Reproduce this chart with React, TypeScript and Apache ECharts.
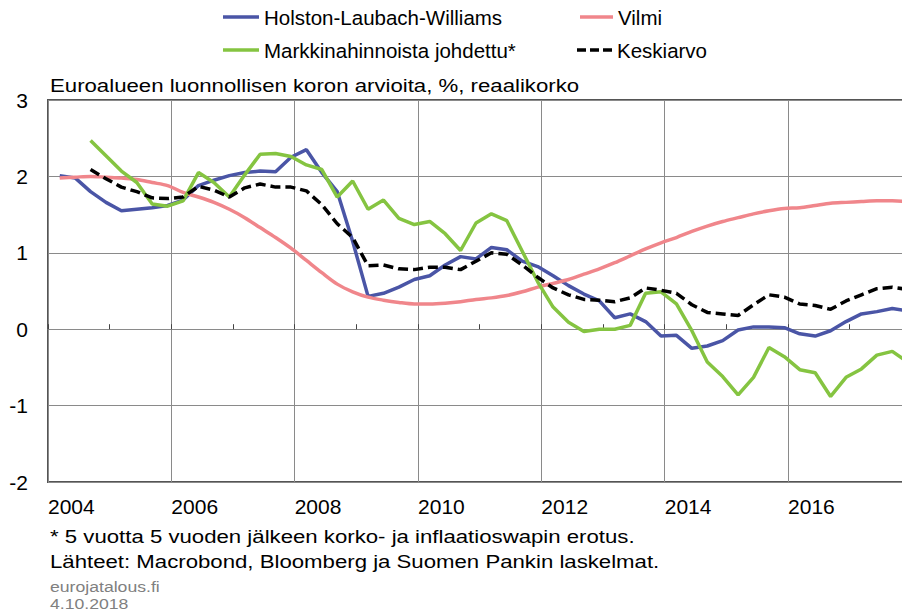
import React, { useEffect, useRef } from "react";
import * as echarts from "echarts";

const quarters: string[] = [];
for (let y = 2004; y <= 2017; y++) for (let q = 1; q <= 4; q++) quarters.push(`${y}Q${q}`);

const hlw = [2.01, 1.98, 1.80, 1.66, 1.55, 1.57, 1.59, 1.62, 1.69, 1.88,
  1.95, 2.01, 2.05, 2.07, 2.06, 2.25, 2.35, 2.05, 1.80, 1.15,
  0.43, 0.47, 0.55, 0.65, 0.70, 0.84, 0.95, 0.92, 1.07, 1.04,
  0.89, 0.82, 0.70, 0.57, 0.46, 0.37, 0.15, 0.20, 0.10, -0.09,
  -0.08, -0.25, -0.22, -0.15, -0.01, 0.03, 0.03, 0.02, -0.06, -0.09,
  -0.02, 0.10, 0.20, 0.23, 0.27, 0.24];

const vilmi = [1.98, 1.99, 2.00, 1.99, 1.98, 1.96, 1.92, 1.88, 1.79, 1.73,
  1.66, 1.57, 1.46, 1.33, 1.20, 1.06, 0.90, 0.74, 0.59, 0.49,
  0.42, 0.38, 0.35, 0.33, 0.33, 0.34, 0.36, 0.39, 0.41, 0.44,
  0.49, 0.55, 0.60, 0.65, 0.72, 0.79, 0.87, 0.96, 1.05, 1.13,
  1.20, 1.28, 1.35, 1.41, 1.46, 1.51, 1.55, 1.58, 1.59, 1.62,
  1.65, 1.66, 1.67, 1.68, 1.68, 1.67];

const market = [null, null, 2.47, 2.27, 2.07, 1.92, 1.64, 1.61, 1.68, 2.05,
  1.92, 1.73, 2.02, 2.29, 2.30, 2.26, 2.15, 2.09, 1.73, 1.94,
  1.57, 1.69, 1.45, 1.37, 1.41, 1.25, 1.03, 1.39, 1.51, 1.42,
  1.02, 0.62, 0.29, 0.09, -0.03, 0.00, 0.00, 0.05, 0.47, 0.49,
  0.33, -0.02, -0.43, -0.62, -0.86, -0.63, -0.24, -0.36, -0.53, -0.57,
  -0.88, -0.63, -0.52, -0.34, -0.29, -0.43];

const average = [null, null, 2.09, 1.97, 1.86, 1.80, 1.72, 1.71, 1.73, 1.87,
  1.82, 1.73, 1.85, 1.90, 1.86, 1.86, 1.81, 1.63, 1.38, 1.20,
  0.83, 0.84, 0.79, 0.78, 0.81, 0.81, 0.78, 0.89, 1.00, 0.98,
  0.84, 0.68, 0.54, 0.45, 0.39, 0.38, 0.36, 0.41, 0.54, 0.51,
  0.47, 0.32, 0.22, 0.20, 0.18, 0.32, 0.45, 0.42, 0.33, 0.31,
  0.26, 0.37, 0.45, 0.53, 0.55, 0.52];

const seriesNames = ["Holston-Laubach-Williams", "Vilmi", "Markkinahinnoista johdettu*", "Keskiarvo"];
const seriesColors = ["#4a55a6", "#f0868b", "#85c441", "#000000"];

const titleText = "Euroalueen luonnollisen koron arvioita, %, reaalikorko";
const footnote1 = "* 5 vuotta 5 vuoden jälkeen korko- ja inflaatioswapin erotus.";
const footnote2 = "Lähteet: Macrobond, Bloomberg ja Suomen Pankin laskelmat.";
const sourceSite = "eurojatalous.fi";
const dateText = "4.10.2018";

const X_MIN = 2004;
const X_MAX = 2017.88;
const Y_MIN = -2;
const Y_MAX = 3;
const QUARTER_POS = 0.19;

const FONT = '"Liberation Sans", Arial, sans-serif';

function toT(q: string): number {
  const y = parseInt(q.slice(0, 4), 10);
  const n = parseInt(q.slice(5), 10);
  return y + (n - 1) / 4 + QUARTER_POS;
}

function pairs(values: (number | null)[]) {
  const out: [number, number][] = [];
  values.forEach((v, i) => {
    if (v !== null && v !== undefined) out.push([toT(quarters[i]), v]);
  });
  return out;
}

const DASH_ICON = "path://M0,0h9v3.5h-9z M13,0h9v3.5h-9z M26,0h9v3.5h-9z";

export default function App() {
  const ref = useRef<HTMLDivElement>(null);
  useEffect(() => {
    if (!ref.current) return;
    const chart = echarts.init(ref.current, undefined, { renderer: "svg" });
    const allData = [hlw, vilmi, market, average];
    const legendPos = [
      { left: 223, top: 6.5, w: 36, icon: "rect" },
      { left: 580, top: 6.5, w: 33, icon: "rect" },
      { left: 223, top: 39.5, w: 36, icon: "rect" },
      { left: 577, top: 39.5, w: 35, icon: DASH_ICON },
    ];
    const option: any = {
      animation: false,
      backgroundColor: "#ffffff",
      grid: {
        left: 48, right: -2, top: 100, bottom: 130,
        show: true, borderColor: "#555555", borderWidth: 2,
        backgroundColor: "transparent",
        outerBoundsMode: "none",
        containLabel: false,
      },
      legend: seriesNames.map((name, i) => ({
        data: [name],
        left: legendPos[i].left,
        top: legendPos[i].top,
        padding: 0,
        icon: legendPos[i].icon,
        itemWidth: legendPos[i].w,
        itemHeight: 3.5,
        symbolKeepAspect: false,
        textStyle: { fontSize: 20.5, fontFamily: FONT, color: "#000" },
        selectedMode: false,
      })),
      xAxis: [
        {
          type: "value", min: X_MIN, max: X_MAX, interval: 2, position: "bottom",
          axisLine: { show: false, onZero: false },
          axisTick: { show: false },
          axisLabel: { align: "left", fontSize: 21, fontFamily: FONT, color: "#000", margin: 14,
            showMaxLabel: false, formatter: (v: number) => String(v) },
          splitLine: { show: true, lineStyle: { color: "#8a8a8a", width: 1 } },
        },
        {
          type: "value", min: X_MIN, max: X_MAX, interval: 1, position: "bottom",
          axisLine: { show: true, onZero: true, lineStyle: { color: "#8a8a8a", width: 1 } },
          axisTick: { show: true, inside: true, length: 5, lineStyle: { color: "#444", width: 1 } },
          axisLabel: { show: false },
          splitLine: { show: false },
        },
      ],
      yAxis: {
        type: "value", min: Y_MIN, max: Y_MAX, interval: 1,
        axisLine: { show: false },
        axisTick: { show: false },
        axisLabel: { fontSize: 21, fontFamily: FONT, color: "#000", margin: 20 },
        splitLine: { show: true, lineStyle: { color: "#8a8a8a", width: 1 } },
      },
      series: seriesNames.map((name, i) => ({
        name,
        type: "line",
        xAxisIndex: 0,
        symbol: "none",
        showSymbol: false,
        smooth: i === 1 ? 0.3 : false,
        data: pairs(allData[i]),
        color: seriesColors[i],
        itemStyle: { color: seriesColors[i] },
        lineStyle: {
          color: seriesColors[i],
          width: 3.5,
          type: i === 3 ? [10, 5] : "solid",
          cap: "butt",
        },
        z: 2 + i,
      })),
      graphic: [
        { type: "text", x: 50, y: 86, scaleX: 1.2,
          style: { text: titleText, font: `18.5px ${FONT}`, fill: "#000", verticalAlign: "middle" } },
        { type: "text", x: 50, y: 537, scaleX: 1.2,
          style: { text: footnote1, font: `18.5px ${FONT}`, fill: "#000", verticalAlign: "middle" } },
        { type: "text", x: 50, y: 562, scaleX: 1.2,
          style: { text: footnote2, font: `18.5px ${FONT}`, fill: "#000", verticalAlign: "middle" } },
        { type: "text", x: 50, y: 587, scaleX: 1.2,
          style: { text: sourceSite, font: `14.7px ${FONT}`, fill: "#808080", verticalAlign: "middle" } },
        { type: "text", x: 50, y: 604, scaleX: 1.2,
          style: { text: dateText, font: `14.7px ${FONT}`, fill: "#808080", verticalAlign: "middle" } },
      ],
    };
    chart.setOption(option);
    return () => chart.dispose();
  }, []);
  return (
    <div
      ref={ref}
      style={{ position: "fixed", left: 0, top: 0, width: 902, height: 612, background: "#fff" }}
    />
  );
}
